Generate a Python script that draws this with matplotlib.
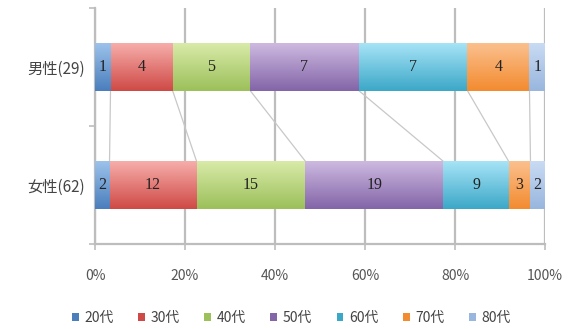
#==============================================================================#
#       男女別・年代別 構成比 (100% stacked horizontal bar)                    #
#==============================================================================#
import numpy as np
import matplotlib.pyplot as plt
from matplotlib.colors import LinearSegmentedColormap
from matplotlib.patches import Patch

plt.rcParams['font.family'] = ['Noto Sans CJK JP', 'DejaVu Sans']

#==============================================================================#
#                               Data                                           #
#==============================================================================#
groups = ['女性(62)', '男性(29)']          # bottom to top
ages = ['20代', '30代', '40代', '50代', '60代', '70代', '80代']
female = [2, 12, 15, 19, 9, 3, 2]
male = [1, 4, 5, 7, 7, 4, 1]
xticklabels = ['0%', '20%', '40%', '60%', '80%', '100%']

# (light top, dark bottom) for the gradient fill
light = ['#9CC2EA', '#F6ADAA', '#D8EAA8', '#CDB9E0', '#A6E3F6', '#FBC08E', '#C9DBF3']
dark = ['#4A7EBD', '#CF4A46', '#9CC05A', '#8365A8', '#3CA8C8', '#F38B2F', '#98B6DE']

#==============================================================================#
#                               Plot                                           #
#==============================================================================#
fig = plt.figure(figsize=(5.69, 3.29), dpi=100)
ax = fig.add_axes([95/569, 85/329, 450/569, 236/329])

counts = np.array([female, male], dtype=float)
pct = counts / counts.sum(axis=1, keepdims=True) * 100
cum = np.cumsum(pct, axis=1) - pct
ypos = np.arange(len(groups))
h = 0.4

grid_c = '#BDBDBD'
for v in range(0, 101, 20):
    ax.axvline(v, color=grid_c, lw=1.6, zorder=0)

# series lines between bars
for j in range(1, len(ages)):
    ax.plot([cum[1, j], cum[0, j]], [ypos[1] - h/2, ypos[0] + h/2],
            color='#C8C8C8', lw=0.9, zorder=1)

grad = np.linspace(0, 1, 64).reshape(-1, 1)
for j, a in enumerate(ages):
    bars = ax.barh(ypos, pct[:, j], left=cum[:, j], height=h,
                   color=dark[j], edgecolor='none', zorder=2)
    cmap = LinearSegmentedColormap.from_list(a, [light[j], dark[j]])
    for i, b in enumerate(bars):
        x0, y0, w, hh = b.get_x(), b.get_y(), b.get_width(), b.get_height()
        im = ax.imshow(grad, cmap=cmap, aspect='auto', origin='upper',
                       extent=[x0, x0 + w, y0, y0 + hh], zorder=3)
        im.set_clip_path(b)
        ax.text(x0 + w/2, ypos[i], str(int(counts[i, j])), ha='center',
                va='center', fontsize=11.5, color='#222222', zorder=4,
                family='Liberation Serif')

ax.set_xlim(0, 100)
ax.set_ylim(-0.5, 1.5)

ax.set_xticks(range(0, 101, 20))
ax.set_xticklabels(xticklabels, fontsize=10, color='#555555')
ax.tick_params(axis='x', length=4, color=grid_c, width=1.2, pad=14)

ax.set_yticks([-0.5, 0.5, 1.5])
ax.set_yticklabels([])
ax.set_yticks(ypos, minor=True)
ax.set_yticklabels(groups, minor=True, fontsize=11, color='#444444')
ax.tick_params(axis='y', which='major', length=4, color=grid_c, width=1.2)
ax.tick_params(axis='y', which='minor', length=0, pad=7)

for s in ['top', 'right']:
    ax.spines[s].set_visible(False)
for s in ['left', 'bottom']:
    ax.spines[s].set_color(grid_c)
    ax.spines[s].set_linewidth(1.6)

handles = [Patch(facecolor=dark[j], edgecolor='none') for j in range(len(ages))]
fig.legend(handles, ages, loc='center', bbox_to_anchor=(0.512, 0.033), ncol=7,
           frameon=False, fontsize=10, handlelength=0.5, handleheight=0.5,
           handletextpad=0.4, columnspacing=1.75, labelcolor='#444444')

plt.savefig('out.png', dpi=100)
plt.close()
